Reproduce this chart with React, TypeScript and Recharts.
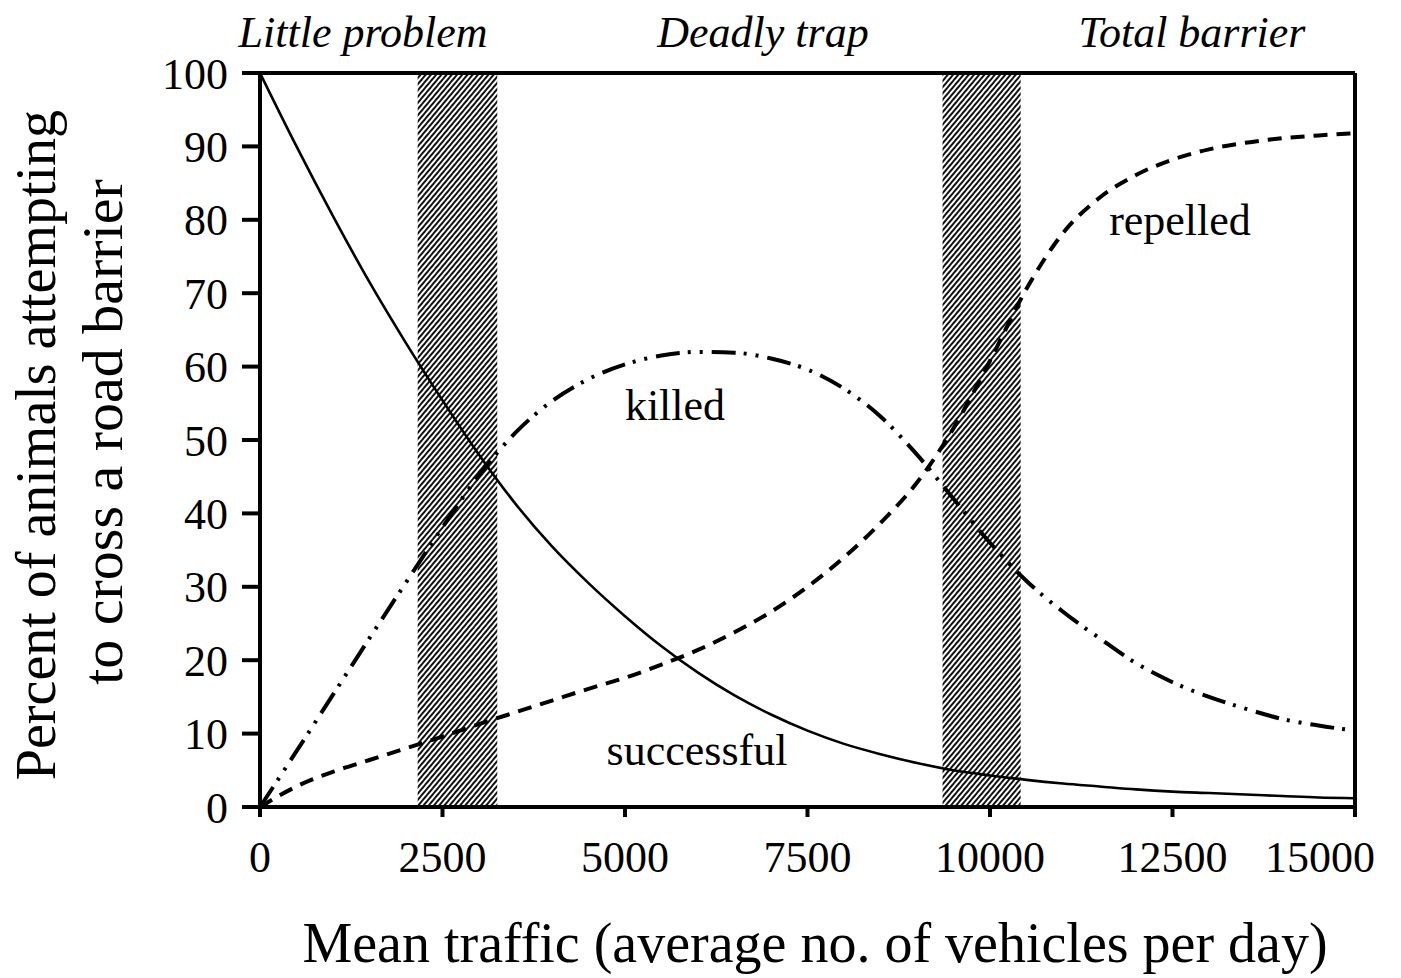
import React from 'react';
import { LineChart, Line, XAxis, YAxis, ReferenceArea, ReferenceDot, Label } from 'recharts';

const traffic = [0, 500, 1000, 1500, 2000, 2500, 3000, 3500, 4000, 4500, 5000, 5500, 6000, 6500, 7000, 7500, 8000, 8500, 9000, 9500, 10000, 10500, 11000, 11500, 12000, 12500, 13000, 13500, 14000, 14500, 15000];
const successful = [100, 90.0, 80.5, 71.5, 63.2, 55.4, 48.0, 41.3, 35.5, 30.5, 26.0, 21.9, 18.3, 15.2, 12.6, 10.4, 8.6, 7.2, 6.0, 5.0, 4.3, 3.7, 3.2, 2.8, 2.4, 2.1, 1.9, 1.7, 1.5, 1.3, 1.2];
const killed = [0, 7.6, 15.3, 23.0, 30.6, 38.1, 45.2, 51.0, 55.3, 58.3, 60.3, 61.5, 62.0, 61.9, 61.1, 59.6, 57.0, 53.2, 48.0, 42.0, 36.0, 30.8, 26.6, 23.0, 19.6, 17.0, 15.0, 13.4, 12.0, 11.1, 10.4];
const repelled = [0, 2.8, 4.8, 6.4, 8.0, 9.6, 11.3, 12.9, 14.5, 16.1, 17.6, 19.4, 21.4, 23.8, 26.6, 30.0, 34.0, 38.7, 44.2, 51.6, 60.8, 70.6, 78.2, 83.0, 86.1, 88.2, 89.6, 90.5, 91.1, 91.5, 91.8];

const xTicks = [0, 2500, 5000, 7500, 10000, 12500, 15000];
const yTicks = [0, 10, 20, 30, 40, 50, 60, 70, 80, 90, 100];

const zoneTitles = ['Little problem', 'Deadly trap', 'Total barrier'];
const zoneTitleAt = [1411, 6890, 12767];

const bandStart = [2160, 9350];
const bandEnd = [3250, 10420];

const curveNames = ['successful', 'killed', 'repelled'];
const curveNameX = [5986, 5685, 12603];
const curveNameY = [7.9, 54.8, 80];

const xLabel = 'Mean traffic (average no. of vehicles per day)';
const yLabel1 = 'Percent of animals attempting';
const yLabel2 = 'to cross a road barrier';

const data = traffic.map((x, i) => ({ x, successful: successful[i], killed: killed[i], repelled: repelled[i] }));

const FONT = '"Liberation Serif", "Times New Roman", serif';
const INK = '#000';

const HatchShape = (props: any) => {
  const { x, y, width, height, index } = props;
  const id = `hatch-${index}`;
  return (
    <g>
      <defs>
        <pattern id={id} patternUnits="userSpaceOnUse" width={4} height={4} patternTransform="rotate(40)">
          <rect x={0} y={0} width={4} height={4} fill="#fff" />
          <line x1={1} y1={0} x2={1} y2={4} stroke="#111" strokeWidth={2} />
        </pattern>
      </defs>
      <rect x={x} y={y} width={width} height={height} fill={`url(#${id})`} />
    </g>
  );
};

const XTick = (props: any) => {
  const { x, y, payload, index } = props;
  const last = index === xTicks.length - 1;
  return (
    <text x={last ? x + 20 : x} y={y} dy="0.71em" textAnchor={last ? 'end' : 'middle'} fontFamily={FONT} fontSize={44} fill={INK}>
      {payload.value}
    </text>
  );
};

export default function App() {
  return (
    <div style={{ marginLeft: -8 }}>
      <LineChart width={1393} height={970} data={data} margin={{ top: 0, right: 0, bottom: 0, left: 0 }}>
        {bandStart.map((b, i) => (
          <ReferenceArea key={`band${i}`} x1={b} x2={bandEnd[i]} y1={0} y2={100} shape={(p: any) => <HatchShape {...p} index={i} />} />
        ))}
        <XAxis
          dataKey="x"
          type="number"
          domain={[0, 15000]}
          ticks={xTicks}
          height={171}
          tickSize={10}
          tickMargin={24}
          axisLine={{ stroke: INK, strokeWidth: 4 }}
          tickLine={{ stroke: INK, strokeWidth: 4 }}
          tick={XTick}
          interval={0}
        >
          <Label
            content={() => (
              <text x={815} y={954} textAnchor="middle" fontFamily={FONT} fontSize={56} fill={INK}>
                {xLabel}
              </text>
            )}
          />
        </XAxis>
        <XAxis
          xAxisId="top"
          orientation="top"
          type="number"
          domain={[0, 15000]}
          height={65}
          tick={false}
          tickLine={false}
          axisLine={{ stroke: INK, strokeWidth: 4 }}
        />
        <YAxis
          type="number"
          domain={[0, 100]}
          ticks={yTicks}
          width={260}
          tickSize={18}
          tickMargin={14}
          axisLine={{ stroke: INK, strokeWidth: 4 }}
          tickLine={{ stroke: INK, strokeWidth: 4 }}
          tick={{ fill: INK, fontSize: 44, fontFamily: FONT }}
          interval={0}
        >
          <Label
            content={() => (
              <g>
                <text x={55} y={437} transform="rotate(-90, 55, 437)" textAnchor="middle" fontFamily={FONT} fontSize={56} fill={INK}>
                  {yLabel1}
                </text>
                <text x={122} y={424} transform="rotate(-90, 122, 424)" textAnchor="middle" fontFamily={FONT} fontSize={58} fill={INK}>
                  {yLabel2}
                </text>
              </g>
            )}
          />
        </YAxis>
        <YAxis
          yAxisId="right"
          orientation="right"
          type="number"
          domain={[0, 100]}
          width={38}
          tick={false}
          tickLine={false}
          axisLine={{ stroke: INK, strokeWidth: 4 }}
        />
        <Line type="monotone" dataKey="successful" stroke={INK} strokeWidth={2.6} dot={false} activeDot={false} isAnimationActive={false} />
        <Line type="monotone" dataKey="killed" stroke={INK} strokeWidth={4} strokeDasharray="24 8 3 9 3 9" dot={false} activeDot={false} isAnimationActive={false} />
        <Line type="monotone" dataKey="repelled" stroke={INK} strokeWidth={4} strokeDasharray="14 9" dot={false} activeDot={false} isAnimationActive={false} />
        {curveNames.map((n, i) => (
          <ReferenceDot
            key={n}
            x={curveNameX[i]}
            y={curveNameY[i]}
            r={0}
            fill="none"
            stroke="none"
            label={{ value: n, position: 'center', fontSize: 44, fontFamily: FONT, fill: INK }}
          />
        ))}
        {zoneTitles.map((t, i) => (
          <ReferenceDot
            key={t}
            x={zoneTitleAt[i]}
            y={100}
            r={0}
            fill="none"
            stroke="none"
            label={{ value: t, position: 'top', offset: 26, fontSize: 44, fontFamily: FONT, fontStyle: 'italic', fill: INK }}
          />
        ))}
      </LineChart>
    </div>
  );
}
